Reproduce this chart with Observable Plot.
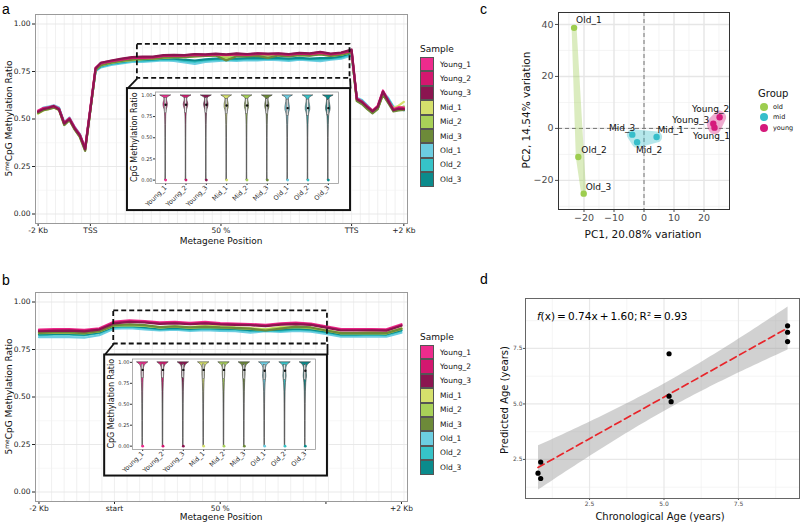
<!DOCTYPE html>
<html><head><meta charset="utf-8">
<script src="https://cdn.jsdelivr.net/npm/d3@7"></script>
<script src="https://cdn.jsdelivr.net/npm/@observablehq/plot@0.6"></script>
<style>
body{margin:0;background:#fff;font-family:"DejaVu Sans",sans-serif;}
#root{position:relative;width:800px;height:526px;overflow:hidden;background:#fff;}
.lg{position:absolute;font-family:"DejaVu Sans",sans-serif;color:#111;}
.lg .t{font-size:9px;margin-bottom:3px;}
.lg .r{display:flex;align-items:center;height:14.4px;}
.lg .s{width:12px;height:12.4px;border:1px solid #555;margin-right:6px;}
.lg .l{font-size:7.5px;}
.plab{position:absolute;font-family:"Liberation Sans",Arial,sans-serif;font-size:14px;line-height:16px;color:#000;}
</style></head>
<body><div id="root"></div>
<script>
// ---------------- DATA ----------------
const samples = ["Young_1","Young_2","Young_3","Mid_1","Mid_2","Mid_3","Old_1","Old_2","Old_3"];
const sampleColors = ["#EE2B8D","#D3176F","#8B1550","#D5E06C","#A8D158","#6D8A39","#6CCDE1","#36C3C8","#0B8B8C"];
const sampleGroup = ["young","young","young","mid","mid","mid","old","old","old"];

// panel a: metagene (gene body) positions, -2Kb=0, TSS=10, TTS=60, +2Kb=70
const posA = [0,1,2,3,4,5,6,7,8,9,10,11,12,14,16,18,20,22,24,26,28,30,32,34,36,38,40,42,44,46,48,50,52,54,56,58,60,61,62,63,64,65,66,67,68,69,70];
const tickPosA = [0,10,35,60,70];
const tickLabA = ["-2 Kb","TSS","50 %","TTS","+2 Kb"];
const aYoung1 = [0.545,0.558,0.562,0.570,0.556,0.480,0.505,0.456,0.418,0.348,0.560,0.770, 0.795,0.806,0.815,0.824,0.826,0.826,0.834,0.836,0.835,0.840,0.838,0.842,0.838,0.843,0.840,0.845,0.842,0.844,0.840,0.846,0.843,0.852,0.842,0.848,0.862, 0.610,0.592,0.568,0.545,0.570,0.650,0.600,0.552,0.562,0.560];
const aYoung2 = [0.540,0.555,0.560,0.566,0.552,0.478,0.502,0.452,0.415,0.345,0.555,0.768, 0.792,0.804,0.812,0.822,0.822,0.824,0.832,0.833,0.834,0.838,0.836,0.840,0.836,0.840,0.838,0.842,0.840,0.842,0.838,0.844,0.841,0.848,0.840,0.846,0.858, 0.606,0.590,0.565,0.542,0.566,0.646,0.598,0.550,0.558,0.556];
const aYoung3 = [0.538,0.552,0.558,0.568,0.550,0.476,0.500,0.450,0.412,0.340,0.550,0.766, 0.796,0.808,0.818,0.826,0.828,0.828,0.836,0.838,0.836,0.842,0.840,0.844,0.840,0.845,0.842,0.846,0.844,0.846,0.842,0.848,0.845,0.854,0.844,0.850,0.866, 0.604,0.588,0.562,0.540,0.564,0.644,0.594,0.546,0.554,0.552];
const aMid1 = [0.528,0.545,0.552,0.560,0.548,0.470,0.495,0.445,0.405,0.335,0.545,0.760, 0.782,0.795,0.805,0.810,0.815,0.818,0.822,0.826,0.826,0.830,0.832,0.834,0.826,0.832,0.832,0.834,0.836,0.836,0.834,0.838,0.836,0.842,0.832,0.838,0.852, 0.598,0.585,0.556,0.535,0.556,0.632,0.592,0.558,0.570,0.590];
const aMid2 = [0.530,0.548,0.555,0.562,0.550,0.472,0.498,0.448,0.408,0.336,0.548,0.762, 0.785,0.798,0.808,0.812,0.818,0.820,0.825,0.828,0.828,0.832,0.833,0.836,0.820,0.834,0.833,0.836,0.834,0.836,0.832,0.838,0.835,0.843,0.834,0.840,0.852, 0.596,0.582,0.555,0.532,0.555,0.630,0.588,0.548,0.556,0.566];
const aMid3 = [0.532,0.546,0.552,0.560,0.548,0.468,0.494,0.444,0.404,0.332,0.545,0.758, 0.783,0.796,0.806,0.812,0.816,0.818,0.823,0.826,0.825,0.830,0.832,0.834,0.808,0.830,0.830,0.832,0.822,0.834,0.830,0.836,0.834,0.840,0.832,0.838,0.850, 0.594,0.578,0.552,0.530,0.552,0.628,0.584,0.540,0.545,0.548];
const aOld1 = [0.535,0.560,0.566,0.572,0.560,0.482,0.508,0.458,0.420,0.345,0.552,0.752, 0.772,0.785,0.792,0.800,0.800,0.805,0.808,0.806,0.798,0.790,0.800,0.805,0.808,0.806,0.810,0.808,0.812,0.810,0.806,0.812,0.808,0.805,0.812,0.818,0.835, 0.612,0.600,0.572,0.540,0.560,0.640,0.612,0.565,0.560,0.550];
const aOld2 = [0.538,0.556,0.562,0.568,0.556,0.478,0.503,0.454,0.416,0.342,0.550,0.755, 0.776,0.790,0.797,0.806,0.806,0.810,0.814,0.813,0.806,0.800,0.808,0.812,0.812,0.812,0.816,0.815,0.818,0.816,0.812,0.818,0.814,0.814,0.818,0.824,0.842, 0.608,0.596,0.568,0.538,0.558,0.636,0.606,0.560,0.556,0.548];
const aOld3 = [0.540,0.554,0.560,0.566,0.554,0.476,0.500,0.450,0.414,0.340,0.548,0.757, 0.780,0.794,0.802,0.810,0.812,0.814,0.818,0.818,0.812,0.808,0.814,0.818,0.818,0.818,0.820,0.820,0.822,0.820,0.818,0.822,0.818,0.820,0.822,0.830,0.848, 0.604,0.592,0.565,0.536,0.556,0.634,0.600,0.556,0.552,0.546];
const seriesA = [aYoung1,aYoung2,aYoung3,aMid1,aMid2,aMid3,aOld1,aOld2,aOld3];

// panel b: -2Kb=0, start=10, end=38, +2Kb=48
const posB = [0,2,4,6,8,10,12,14,16,18,20,22,24,26,28,30,32,34,36,38,40,42,44,46,48];
const tickPosB = [0,10,24,38,48];
const tickLabB = ["-2 Kb","start","50 %","","+2 Kb"];
const bYoung1 = [0.855,0.857,0.857,0.853,0.862,0.897,0.903,0.900,0.893,0.896,0.890,0.895,0.889,0.886,0.884,0.880,0.888,0.891,0.886,0.872,0.858,0.857,0.858,0.856,0.883];
const bYoung2 = [0.850,0.852,0.853,0.849,0.858,0.892,0.898,0.895,0.888,0.892,0.886,0.890,0.885,0.882,0.880,0.876,0.884,0.887,0.882,0.868,0.853,0.853,0.854,0.852,0.878];
const bYoung3 = [0.846,0.848,0.849,0.845,0.855,0.888,0.895,0.892,0.885,0.888,0.883,0.888,0.882,0.880,0.878,0.873,0.881,0.884,0.880,0.865,0.850,0.850,0.851,0.849,0.875];
const bMid1 = [0.840,0.842,0.842,0.838,0.848,0.878,0.880,0.875,0.866,0.872,0.868,0.876,0.873,0.866,0.862,0.858,0.868,0.872,0.866,0.852,0.838,0.838,0.840,0.838,0.862];
const bMid2 = [0.836,0.838,0.838,0.835,0.845,0.876,0.878,0.874,0.866,0.870,0.864,0.868,0.866,0.862,0.858,0.855,0.862,0.868,0.862,0.850,0.835,0.835,0.836,0.834,0.858];
const bMid3 = [0.838,0.840,0.840,0.836,0.846,0.878,0.882,0.878,0.868,0.872,0.866,0.870,0.866,0.864,0.860,0.850,0.860,0.870,0.866,0.850,0.836,0.836,0.838,0.836,0.860];
const bOld1 = [0.815,0.816,0.815,0.812,0.825,0.860,0.862,0.856,0.850,0.854,0.848,0.852,0.848,0.846,0.838,0.846,0.842,0.848,0.844,0.832,0.818,0.817,0.818,0.818,0.838];
const bOld2 = [0.826,0.828,0.828,0.824,0.836,0.868,0.870,0.864,0.856,0.860,0.855,0.860,0.856,0.854,0.848,0.850,0.848,0.856,0.852,0.840,0.826,0.826,0.828,0.826,0.848];
const bOld3 = [0.830,0.832,0.832,0.828,0.840,0.872,0.874,0.868,0.860,0.864,0.858,0.864,0.860,0.858,0.852,0.852,0.854,0.860,0.856,0.844,0.830,0.830,0.832,0.830,0.852];
const seriesB = [bYoung1,bYoung2,bYoung3,bMid1,bMid2,bMid3,bOld1,bOld2,bOld3];

// zoom boxes (data coords of each main panel)
const zoomBoxA = {x1:19.0, x2:59.7, y1:0.714, y2:0.893};
const insetBoxA = {x1:17.1, x2:59.8, y1:0.018, y2:0.660};
const zoomBoxB = {x1:9.9, x2:38.2, y1:0.779, y2:0.953};
const insetBoxB = {x1:8.7, x2:38.2, y1:0.084, y2:0.721};

// violin insets: half-width profile at methylation levels
const violinLevels = [0,0.02,0.1,0.3,0.5,0.65,0.75,0.8,0.83,0.86,0.89,0.92,0.95,0.97,0.99,1.0];
const violinA_young = [0.030,0.015,0.012,0.012,0.014,0.018,0.026,0.036,0.052,0.090,0.110,0.090,0.060,0.080,0.200,0.270];
const violinA_mid   = [0.030,0.015,0.012,0.013,0.015,0.020,0.030,0.045,0.070,0.100,0.100,0.080,0.060,0.085,0.200,0.265];
const violinA_old   = [0.030,0.015,0.013,0.014,0.016,0.024,0.040,0.075,0.110,0.110,0.090,0.070,0.060,0.080,0.190,0.260];
const violinB_young = [0.010,0.012,0.014,0.016,0.020,0.026,0.036,0.045,0.052,0.060,0.058,0.060,0.085,0.130,0.220,0.280];
const violinB_mid   = [0.010,0.012,0.014,0.016,0.020,0.027,0.038,0.048,0.056,0.062,0.060,0.060,0.085,0.130,0.220,0.280];
const violinB_old   = [0.010,0.012,0.014,0.016,0.020,0.028,0.045,0.065,0.080,0.075,0.065,0.062,0.085,0.130,0.215,0.280];
const boxA_q1 = [0.79,0.79,0.79,0.78,0.78,0.78,0.76,0.76,0.76];
const boxA_med = [0.89,0.89,0.89,0.88,0.88,0.88,0.85,0.85,0.85];
const boxA_q3 = [0.97,0.97,0.97,0.96,0.96,0.96,0.95,0.95,0.95];
const boxB_q1 = [0.81,0.81,0.81,0.80,0.80,0.80,0.79,0.79,0.79];
const boxB_med = [0.91,0.91,0.91,0.91,0.91,0.91,0.90,0.90,0.90];
const boxB_q3 = [0.975,0.975,0.975,0.975,0.975,0.975,0.97,0.97,0.97];

// panel c: PCA
const pcaNames = ["Old_1","Old_2","Old_3","Mid_1","Mid_2","Mid_3","Young_1","Young_2","Young_3"];
const pcaGroup = ["old","old","old","mid","mid","mid","young","young","young"];
const pc1 = [-23.3,-21.9,-20.1,4.2,-2.3,-3.9,23.5,25.2,23.1];
const pc2 = [38.7,-11.0,-25.1,-3.3,-5.3,-2.4,0.3,4.3,1.8];
const groupNames = ["old","mid","young"];
const groupColors = ["#9DCD4F","#36BECA","#D51A7B"];
const labelAnchor = ["start","start","start","start","start","end","middle","middle","end"];
const labelDx = [2,3,2,1,-1,3,-3,-9,-4];
const labelDy = [-8,-7,-7,-7,8,-7,8,-8,-4];

// panel d: age regression
const chronoAge = [0.77,0.86,0.86,5.17,5.17,5.24,9.15,9.15,9.15];
const predAge = [1.88,2.38,1.64,7.26,5.35,5.10,8.52,8.23,7.81];

// ---------------- HELPERS ----------------
const root = document.getElementById("root");
function place(el, left, top) {
  el.style.position = "absolute"; el.style.left = left + "px"; el.style.top = top + "px";
  el.style.maxWidth = "none"; root.appendChild(el); return el;
}
function svgText(svg, x, y, str, o = {}) {
  const t = d3.select(svg).append("text")
    .attr("transform", `translate(${x},${y})` + (o.rotate ? ` rotate(${o.rotate})` : ""))
    .attr("text-anchor", o.anchor || "middle")
    .attr("font-size", o.size || 9)
    .attr("font-family", o.family || "DejaVu Sans")
    .attr("fill", o.fill || "#111");
  if (str != null) t.text(str);
  return t;
}
function addGradients(svg, prefix) {
  const defs = d3.select(svg).insert("defs", ":first-child");
  sampleColors.forEach((c, k) => {
    const g = defs.append("linearGradient").attr("id", prefix + k)
      .attr("x1", 0).attr("y1", 0).attr("x2", 0).attr("y2", 1);
    [[0, c], [0.2, c], [0.5, "#5a5a5a"], [1, "#777"]].forEach(([o, col]) =>
      g.append("stop").attr("offset", o).attr("stop-color", col));
  });
}
function legend(left, top) {
  const d = document.createElement("div"); d.className = "lg";
  d.style.left = left + "px"; d.style.top = top + "px";
  let h = '<div class="t">Sample</div>';
  samples.forEach((s, k) => { h += `<div class="r"><div class="s" style="background:${sampleColors[k]}"></div><div class="l">${s}</div></div>`; });
  d.innerHTML = h; root.appendChild(d);
}
function panelLabel(txt, left, top) {
  const d = document.createElement("div"); d.className = "plab"; d.textContent = txt;
  d.style.left = left + "px"; d.style.top = top + "px"; root.appendChild(d);
}

// ---------------- METAGENE PANELS ----------------
function metaPanel(cfg) {
  const rows = [];
  const order = [6,7,8,3,4,5,0,1,2];
  order.forEach(k => cfg.series[k].forEach((v, j) => rows.push({sample: samples[k], pos: cfg.pos[j], value: v})));
  const labMap = new Map(cfg.tickPos.map((p, i) => [p, cfg.tickLab[i]]));
  const gridX = d3.range(0, cfg.xDomain[1], 10 / 6);
  const zb = cfg.zoomBox, ib = cfg.insetBox;
  const links = [{x1: zb.x1, y1: zb.y1, x2: ib.x1, y2: ib.y2}, {x1: zb.x2, y1: zb.y1, x2: ib.x2, y2: ib.y2}];
  const svg = Plot.plot({
    width: 418, height: cfg.height, marginLeft: 35, marginRight: 11, marginTop: cfg.marginTop, marginBottom: cfg.marginBottom,
    style: {fontFamily: "DejaVu Sans", fontSize: "7.5px", color: "#222", background: "transparent"},
    x: {domain: cfg.xDomain, ticks: cfg.tickPos, tickFormat: d => labMap.get(d), tickSize: 3, tickPadding: 1, label: null},
    y: {domain: [-0.05, 1.05], ticks: [0, 0.25, 0.5, 0.75, 1], tickFormat: ".2f", tickSize: 3, tickPadding: 2, label: null},
    color: {domain: samples, range: sampleColors},
    marks: [
      Plot.ruleX(gridX, {stroke: "#ececec", strokeWidth: 0.8}),
      Plot.ruleY([0.125, 0.375, 0.625, 0.875], {stroke: "#f2f2f2", strokeWidth: 0.6}),
      Plot.ruleY([0, 0.25, 0.5, 0.75, 1], {stroke: "#e6e6e6", strokeWidth: 0.9}),
      Plot.line(rows, {x: "pos", y: "value", z: "sample", stroke: "sample", strokeWidth: 2.2, strokeLinejoin: "round"}),
      Plot.rect([zb], {x1: "x1", x2: "x2", y1: "y1", y2: "y2", fill: "none", stroke: "#111", strokeWidth: 1.8, strokeDasharray: "5,3"}),
      Plot.link(links, {x1: "x1", y1: "y1", x2: "x2", y2: "y2", stroke: "#111", strokeWidth: 1.8}),
      Plot.rect([ib], {x1: "x1", x2: "x2", y1: "y1", y2: "y2", fill: "white", stroke: "#111", strokeWidth: 2}),
      Plot.frame({stroke: "#9a9a9a", strokeWidth: 1})
    ]
  });
  place(svg, 0, cfg.top);
  const fy = cfg.marginTop + (cfg.height - cfg.marginTop - cfg.marginBottom) / 2;
  svgText(svg, 221, cfg.height - 6, "Metagene Position", {size: 9});
  const t = svgText(svg, 12, fy, null, {size: 9, rotate: -90});
  t.append("tspan").text("5");
  t.append("tspan").attr("dy", -3.5).attr("font-size", 6).text("me");
  t.append("tspan").attr("dy", 3.5).text("CpG Methylation Ratio");
  // inset violin plot
  const xs = svg.scale("x"), ys = svg.scale("y");
  const L = xs.apply(ib.x1), R = xs.apply(ib.x2), T = ys.apply(ib.y2), B = ys.apply(ib.y1);
  violinInset({left: L, top: cfg.top + T, width: R - L, height: B - T, shapes: cfg.shapes, q1: cfg.q1, med: cfg.med, q3: cfg.q3, gid: cfg.gid});
}

function violinInset(o) {
  const marks = [];
  samples.forEach((s, k) => {
    const w = o.shapes[sampleGroup[k]];
    const rows = violinLevels.map((lv, j) => ({level: lv, lo: k + 1 - w[j], hi: k + 1 + w[j]}));
    marks.push(Plot.areaX(rows, {y: "level", x1: "lo", x2: "hi", fill: `url(#${o.gid}${k})`, stroke: "#3a3a3a", strokeWidth: 0.6, curve: "monotone-y"}));
  });
  const boxRows = samples.map((s, k) => ({idx: k + 1, sample: s, q1: o.q1[k], med: o.med[k], q3: o.q3[k], zero: 0}));
  marks.push(Plot.rect(boxRows, {x1: d => d.idx - 0.045, x2: d => d.idx + 0.045, y1: "q1", y2: "q3", fill: "#e4e4e4", stroke: "#555", strokeWidth: 0.5}));
  marks.push(Plot.dot(boxRows, {x: "idx", y: "med", r: 1.2, fill: "#111"}));
  marks.push(Plot.dot(boxRows, {x: "idx", y: "zero", r: 1.4, fill: "sample"}));
  marks.push(Plot.frame({stroke: "#9a9a9a", strokeWidth: 0.8}));
  const svg = Plot.plot({
    width: Math.round(o.width), height: Math.round(o.height), marginLeft: 28, marginRight: 12, marginTop: 3.5, marginBottom: 27,
    style: {fontFamily: "DejaVu Sans", fontSize: "5px", color: "#333", background: "transparent"},
    x: {domain: [0.5, 9.5], ticks: [1,2,3,4,5,6,7,8,9], tickFormat: d => samples[d - 1], tickRotate: -45, tickSize: 2, tickPadding: 1, label: null},
    y: {domain: [-0.04, 1.04], ticks: [0, 0.25, 0.5, 0.75, 1], tickFormat: ".2f", tickSize: 2, tickPadding: 1, label: null},
    color: {domain: samples, range: sampleColors},
    marks
  });
  d3.select(svg).selectAll('g[aria-label="x-axis tick label"] text').attr("font-size", 6.5);
  addGradients(svg, o.gid);
  svgText(svg, 10, 3.5 + (o.height - 30.5) / 2, "CpG Methylation Ratio", {size: 8, rotate: -90});
  place(svg, Math.round(o.left), Math.round(o.top));
}

metaPanel({top: 0, height: 250, marginTop: 14, marginBottom: 27, pos: posA, series: seriesA, tickPos: tickPosA, tickLab: tickLabA,
  xDomain: [-0.5, 70.7], zoomBox: zoomBoxA, insetBox: insetBoxA, gid: "gA",
  shapes: {young: violinA_young, mid: violinA_mid, old: violinA_old}, q1: boxA_q1, med: boxA_med, q3: boxA_q3});
metaPanel({top: 260, height: 266, marginTop: 32, marginBottom: 25, pos: posB, series: seriesB, tickPos: tickPosB, tickLab: tickLabB,
  xDomain: [-0.46, 48.8], zoomBox: zoomBoxB, insetBox: insetBoxB, gid: "gB",
  shapes: {young: violinB_young, mid: violinB_mid, old: violinB_old}, q1: boxB_q1, med: boxB_med, q3: boxB_q3});
legend(420, 44);
legend(420, 332);

// ---------------- PANEL C ----------------
(function () {
  const rows = pcaNames.map((n, i) => ({name: n, group: pcaGroup[i], pc1: pc1[i], pc2: pc2[i]}));
  const hullW = {old: 5, mid: 11, young: 13};
  const marks = [
    Plot.ruleX([-25, -15, -5, 5, 15, 25], {stroke: "#efefef", strokeWidth: 0.7}),
    Plot.ruleY([-30, -10, 10, 30], {stroke: "#efefef", strokeWidth: 0.7}),
    Plot.ruleX([-20, -10, 0, 10, 20], {stroke: "#e6e6e6", strokeWidth: 1.4}),
    Plot.ruleY([-20, 0, 20, 40], {stroke: "#e6e6e6", strokeWidth: 1.4}),
    Plot.ruleX([0], {stroke: "#666", strokeWidth: 0.9, strokeDasharray: "4,3"}),
    Plot.ruleY([0], {stroke: "#666", strokeWidth: 0.9, strokeDasharray: "4,3"})
  ];
  groupNames.forEach((g, gi) => {
    marks.push(Plot.hull(rows.filter(d => d.group === g), {x: "pc1", y: "pc2", fill: groupColors[gi], stroke: groupColors[gi],
      strokeWidth: hullW[g], strokeLinejoin: "round", opacity: 0.36}));
  });
  marks.push(Plot.dot(rows, {x: "pc1", y: "pc2", fill: "group", r: 3.2}));
  rows.forEach((d, i) => marks.push(Plot.text([d], {x: "pc1", y: "pc2", text: "name", textAnchor: labelAnchor[i], dx: labelDx[i], dy: labelDy[i], fontSize: 9, fill: "#111"})));
  marks.push(Plot.frame({stroke: "#333", strokeWidth: 1}));
  const svg = Plot.plot({
    width: 215, height: 245, marginLeft: 38, marginRight: 6, marginTop: 12, marginBottom: 36,
    style: {fontFamily: "DejaVu Sans", fontSize: "9.5px", color: "#4d4d4d", background: "transparent"},
    x: {domain: [-28.5, 28.5], ticks: [-20, -10, 0, 10, 20], tickSize: 3, tickPadding: 2, label: null},
    y: {domain: [-31.2, 44.6], ticks: [-20, 0, 20, 40], tickSize: 3, tickPadding: 2, label: null},
    color: {domain: groupNames, range: groupColors},
    marks
  });
  svgText(svg, 123, 238, "PC1, 20.08% variation", {size: 10.5});
  svgText(svg, 10, 110, "PC2, 14.54% variation", {size: 10.5, rotate: -90});
  place(svg, 520, 0);
  // group legend
  const lg = document.createElement("div"); lg.className = "lg"; lg.style.left = "758px"; lg.style.top = "88px";
  let h = '<div style="font-size:10px;margin-bottom:3px">Group</div>';
  groupNames.forEach((g, i) => { h += `<div style="display:flex;align-items:center;height:10.3px"><div style="width:8px;height:8px;border-radius:50%;background:${groupColors[i]};margin:0 5px 0 2px"></div><div style="font-size:6.5px">${g}</div></div>`; });
  lg.innerHTML = h; root.appendChild(lg);
})();

// ---------------- PANEL D ----------------
(function () {
  const rows = chronoAge.map((x, i) => ({chrono: x, pred: predAge[i]}));
  const svg = Plot.plot({
    width: 300, height: 256, marginLeft: 25, marginRight: 1, marginTop: 28, marginBottom: 28,
    style: {fontFamily: "DejaVu Sans", fontSize: "6px", color: "#4d4d4d", background: "transparent"},
    x: {domain: [0.35, 9.55], ticks: [2.5, 5, 7.5], tickFormat: ".1f", tickSize: 2, tickPadding: 1, label: null},
    y: {domain: [0.74, 9.75], ticks: [2.5, 5, 7.5], tickFormat: ".1f", tickSize: 2, tickPadding: 1, label: null},
    marks: [
      Plot.ruleX([1.25, 3.75, 6.25, 8.75], {stroke: "#f0f0f0", strokeWidth: 0.7}),
      Plot.ruleY([1.25, 3.75, 6.25, 8.75], {stroke: "#f0f0f0", strokeWidth: 0.7}),
      Plot.ruleX([2.5, 5, 7.5], {stroke: "#e8e8e8", strokeWidth: 1.2}),
      Plot.ruleY([2.5, 5, 7.5], {stroke: "#e8e8e8", strokeWidth: 1.2}),
      Plot.linearRegressionY(rows, {x: "chrono", y: "pred", stroke: "#E8252A", strokeWidth: 1.7, strokeDasharray: "7,4", fill: "#999", fillOpacity: 0.45}),
      Plot.dot(rows, {x: "chrono", y: "pred", r: 2.6, fill: "#000"}),
      Plot.frame({stroke: "#666", strokeWidth: 1})
    ]
  });
  const xs = svg.scale("x"), ys = svg.scale("y");
  const eq = svgText(svg, xs.apply(0.75), ys.apply(8.78), null, {size: 10.5, anchor: "start", fill: "#000"});
  eq.append("tspan").attr("font-style", "italic").text("f");
  eq.append("tspan").text("(x)\u2009=\u20090.74x\u2009+\u20091.60;\u2009R\u00b2\u2009=\u20090.93");
  svgText(svg, 160, 250, "Chronological Age (years)", {size: 10});
  svgText(svg, 8, 130, "Predicted Age (years)", {size: 10, rotate: -90});
  place(svg, 500, 270);
})();

panelLabel("a", 2, 1);
panelLabel("b", 2, 272);
panelLabel("c", 480, 1);
panelLabel("d", 480, 271);
</script></body></html>
